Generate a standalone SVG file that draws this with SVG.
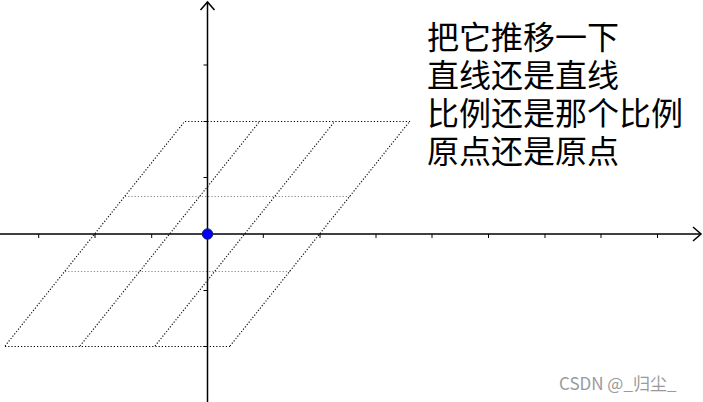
<svg xmlns="http://www.w3.org/2000/svg" width="703" height="402" viewBox="0 0 703 402">
<style>
.axis{stroke:#000;stroke-width:1.5;fill:none}
.tick{stroke:#000;stroke-width:1}
.dk{stroke:#000;stroke-width:1.2;stroke-dasharray:1.2 2;fill:none}
.sl{stroke:#111;stroke-width:1.2;stroke-dasharray:1.2 1.8;fill:none}
.lt{stroke:#888;stroke-width:1.2;stroke-dasharray:1.2 2;fill:none}
.t{font-family:"Noto Sans CJK SC","Liberation Sans",sans-serif;font-size:32px;fill:#000}
.wm{font-family:"Noto Sans CJK SC","Liberation Sans",sans-serif;font-size:17px;fill:#9a9a9a}
</style>
<rect width="703" height="402" fill="#fff"/>
<g id="grid">
<line class="dk" x1="185" y1="121.5" x2="410" y2="121.5"/>
<line class="dk" x1="5" y1="346.5" x2="230" y2="346.5"/>
<line class="lt" x1="125" y1="196.5" x2="350" y2="196.5"/>
<line class="lt" x1="65" y1="271.5" x2="290" y2="271.5"/>
<line class="sl" x1="5" y1="346" x2="185" y2="121"/>
<line class="sl" x1="80" y1="346" x2="260" y2="121"/>
<line class="sl" x1="155" y1="346" x2="335" y2="121"/>
<line class="sl" x1="230" y1="346" x2="410" y2="121"/>
</g>
<g id="axes">
<line class="axis" x1="0" y1="234" x2="701" y2="234"/>
<polyline class="axis" points="693,227 701,234 693,241"/>
<line class="axis" x1="207.5" y1="402" x2="207.5" y2="2"/>
<polyline class="axis" points="200.5,10 207.5,2 214.5,10"/>
<g class="tick">
<line x1="38.7" y1="234" x2="38.7" y2="238"/>
<line x1="95" y1="234" x2="95" y2="238"/>
<line x1="151.7" y1="234" x2="151.7" y2="238"/>
<line x1="263.3" y1="234" x2="263.3" y2="238"/>
<line x1="320" y1="234" x2="320" y2="238"/>
<line x1="376" y1="234" x2="376" y2="238"/>
<line x1="432" y1="234" x2="432" y2="238"/>
<line x1="488.5" y1="234" x2="488.5" y2="238"/>
<line x1="545" y1="234" x2="545" y2="238"/>
<line x1="601" y1="234" x2="601" y2="238"/>
<line x1="657.5" y1="234" x2="657.5" y2="238"/>
<line x1="203.5" y1="65" x2="207.5" y2="65"/>
<line x1="203.5" y1="121.5" x2="207.5" y2="121.5"/>
<line x1="203.5" y1="177.5" x2="207.5" y2="177.5"/>
<line x1="203.5" y1="290.5" x2="207.5" y2="290.5"/>
<line x1="203.5" y1="346.5" x2="207.5" y2="346.5"/>
</g>
</g>
<g id="origin">
<circle cx="207.5" cy="234" r="5.2" fill="#0000ff" stroke="#1a1a66" stroke-width="1"/>
</g>
<g id="caption">
<text class="t" x="427" y="49">把它推移一下</text>
<text class="t" x="427" y="87">直线还是直线</text>
<text class="t" x="427" y="125">比例还是那个比例</text>
<text class="t" x="427" y="163">原点还是原点</text>
</g>
<text class="wm" x="559" y="390">CSDN @_归尘_</text>
</svg>
